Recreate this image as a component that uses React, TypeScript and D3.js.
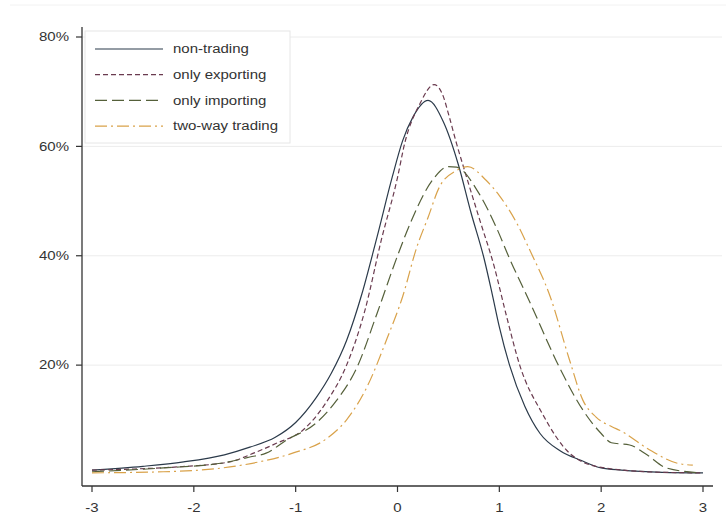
import React from "react";
import * as d3 from "d3";

const xTicks = [-3, -2, -1, 0, 1, 2, 3];
const yTicks = [20, 40, 60, 80];
const seriesNames = ["non-trading", "only exporting", "only importing", "two-way trading"];

const nonTradingX = [-3, -2.5, -2.1, -1.7, -1.45, -1.2, -1.0, -0.8, -0.65, -0.5, -0.35, -0.2, -0.05, 0.05, 0.15, 0.3, 0.45, 0.6, 0.72, 0.85, 0.93, 1.0, 1.1, 1.25, 1.4, 1.6, 1.8, 2.0, 2.2, 2.6, 3.0];
const nonTradingY = [0.8, 1.5, 2.3, 3.6, 5.0, 6.8, 9.5, 14, 18.5, 24.5, 33, 43.5, 54.5, 61, 65.3, 68.4, 64.5, 56.5, 48, 39.5, 33, 27, 20, 12.5, 7.5, 4.3, 2.6, 1.2, 0.8, 0.4, 0.3];

const exportingX = [-3, -2.6, -2.15, -1.65, -1.4, -1.19, -0.93, -0.7, -0.5, -0.32, -0.16, 0, 0.07, 0.22, 0.36, 0.44, 0.51, 0.58, 0.66, 0.8, 0.95, 1.07, 1.2, 1.42, 1.69, 2.0, 2.6, 3.0];
const exportingY = [0.8, 1.0, 1.4, 2.3, 4.0, 5.7, 8.1, 13.2, 20, 30, 42.8, 54.3, 60.5, 67.8, 71.3, 69.6, 65.3, 60.5, 55.5, 47, 38, 29, 20, 11.2, 3.9, 1.3, 0.4, 0.3];

const importingX = [-3, -2.3, -1.72, -1.45, -1.29, -1.09, -0.8, -0.6, -0.4, -0.2, 0, 0.15, 0.35, 0.5, 0.58, 0.8, 0.97, 1.1, 1.3, 1.59, 1.82, 2.0, 2.1, 2.28, 2.45, 2.64, 2.97];
const importingY = [0.5, 1.2, 2.1, 3.2, 3.9, 6.3, 9.4, 13.5, 19.5, 29.5, 40, 47, 54, 56.3, 56.2, 51.4, 45.2, 39.5, 31.5, 19.6, 11.8, 7.5, 5.8, 5.4, 3.6, 1.2, 0.3];

const twoWayX = [-3, -2.3, -1.72, -1.36, -1.03, -0.7, -0.5, -0.3, -0.1, 0.05, 0.19, 0.3, 0.41, 0.58, 0.69, 0.87, 1.0, 1.17, 1.3, 1.5, 1.69, 1.82, 1.95, 2.11, 2.18, 2.45, 2.74, 2.9];
const twoWayY = [0.3, 0.5, 1.2, 2.3, 3.9, 6.5, 10, 16, 25, 32.5, 41.6, 47, 52.5, 55.6, 56.3, 53.8, 51, 46, 41, 32.5, 20.9, 13.6, 10.5, 8.7, 8.1, 4.8, 2.1, 1.7];

const seriesXs = [nonTradingX, exportingX, importingX, twoWayX];
const seriesYs = [nonTradingY, exportingY, importingY, twoWayY];
const colors = ["#2b3a4a", "#6a3b4f", "#55603a", "#d9a24a"];
const dashes = ["none", "5,3", "12,5", "12,4,2,4"];

const font = "Arial, 'Liberation Sans', sans-serif";
const SX = 1.25;

function T(props: { x: number; y: number; anchor?: "start" | "middle" | "end"; children: React.ReactNode }) {
  return (
    <g transform={`translate(${props.x},${props.y}) scale(${SX},1)`}>
      <text x={0} y={0} textAnchor={props.anchor || "start"} fontSize={12} fill="#333" fontFamily={font}>
        {props.children}
      </text>
    </g>
  );
}

export default function App() {
  const W = 726, H = 529;
  const x = d3.scaleLinear().domain([-3, 3]).range([92, 703]);
  const y = d3.scaleLinear().domain([0, 80]).range([474.5, 37]);
  const axisY = 486;
  const axisX = 82;
  const line = d3
    .line<[number, number]>()
    .x((d) => x(d[0]))
    .y((d) => y(d[1]))
    .curve(d3.curveMonotoneX);

  return (
    <div style={{ position: "absolute", left: 0, top: 0 }}>
      <svg width={W} height={H} style={{ display: "block", background: "#fff" }}>
        <line x1={10} x2={W} y1={5} y2={5} stroke="#f2f2f2" strokeWidth={1} />
        {yTicks.map((t) => (
          <g key={t}>
            <line x1={axisX} x2={722} y1={y(t)} y2={y(t)} stroke="#ececec" strokeWidth={1} />
            <line x1={axisX - 6} x2={axisX} y1={y(t)} y2={y(t)} stroke="#333" strokeWidth={1.2} />
            <T x={axisX - 13} y={y(t) + 4.3} anchor="end">{`${t}%`}</T>
          </g>
        ))}
        {xTicks.map((t) => (
          <g key={t}>
            <line x1={x(t)} x2={x(t)} y1={axisY} y2={axisY + 6} stroke="#333" strokeWidth={1.2} />
            <T x={x(t)} y={axisY + 26} anchor="middle">{t}</T>
          </g>
        ))}
        <line x1={axisX} x2={axisX} y1={27} y2={axisY} stroke="#333" strokeWidth={1.3} />
        <line x1={axisX} x2={713} y1={axisY} y2={axisY} stroke="#333" strokeWidth={1.3} />
        {seriesXs.map((xs, i) => {
          const pts: [number, number][] = xs.map((v, j) => [v, seriesYs[i][j]]);
          return (
            <path
              key={i}
              d={line(pts) || ""}
              fill="none"
              stroke={colors[i]}
              strokeWidth={1.2}
              strokeDasharray={dashes[i]}
            />
          );
        })}
        <g>
          <rect x={85} y={31} width={205} height={112} fill="#fff" stroke="#e6e6e6" strokeWidth={1} />
          {seriesNames.map((n, i) => {
            const cy = 49 + i * 25.7;
            return (
              <g key={n}>
                <line x1={95} x2={163} y1={cy} y2={cy} stroke={colors[i]} strokeWidth={1.2} strokeDasharray={dashes[i]} />
                <T x={173} y={cy + 4.3}>{n}</T>
              </g>
            );
          })}
        </g>
      </svg>
    </div>
  );
}
